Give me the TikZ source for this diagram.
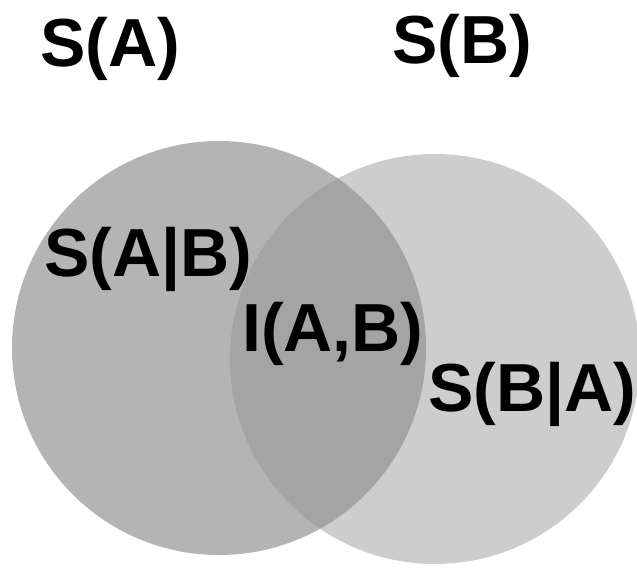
\documentclass[tikz,border=0pt]{standalone}
\usepackage{fontspec}
\setmainfont{Liberation Sans}
\definecolor{cA}{HTML}{B4B4B4}
\definecolor{cB}{HTML}{CDCDCD}
\definecolor{cI}{HTML}{A4A4A4}
\begin{document}
\begin{tikzpicture}[x=1pt,y=-1pt,
  lbl/.style={font=\fontsize{68}{68}\selectfont\bfseries, inner sep=0pt, anchor=base west}]
\useasboundingbox (0,0) rectangle (637,568);
\fill[cB] (435,359) circle (205pt);
\fill[cA] (219,348) circle (207pt);
\begin{scope}
  \clip (435,359) circle (205pt);
  \fill[cI] (219,348) circle (207pt);
\end{scope}
\node[lbl] (sa) at (40,66) {S(A)};
\node[lbl] (sb) at (392,63) {S(B)};
\node[lbl] (sab) at (44,276) {S(A|B)};
\node[lbl] (iab) at (242,351) {I(A,B)};
\node[lbl] (sba) at (428,411) {S(B|A)};
\end{tikzpicture}
\end{document}
